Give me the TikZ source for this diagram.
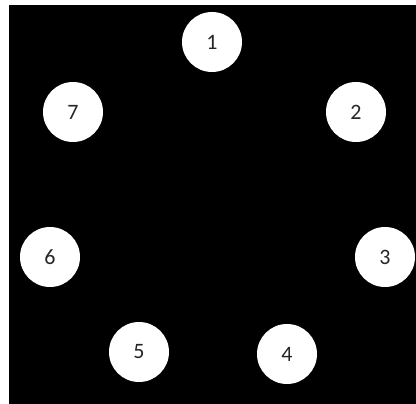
\documentclass[tikz,border=0pt]{standalone}
\usepackage{fontspec}
\setmainfont{Carlito}
\usepackage{tikz}
\usetikzlibrary{positioning}

\begin{document}
\begin{tikzpicture}[
			x=1pt, y=-1pt,
			vertex/.style={circle, draw=none, fill=white, minimum size=60pt, inner sep=0pt, text=black!85, font=\fontsize{22}{24}\selectfont}
			]
			% page and black backdrop
			\useasboundingbox (0,0) rectangle (416,404);
			\fill[white] (0,0) rectangle (416,404);
			\fill[black] (9,5) rectangle (416,404);
			
			% ring of vertices
			\node[vertex] (v1) at (212,42) {1};
			\node[vertex] (v2) at (356,112) {2};
			\node[vertex] (v3) at (385,257) {3};
			\node[vertex] (v4) at (287,354) {4};
			\node[vertex] (v5) at (139,352) {5};
			\node[vertex] (v6) at (50,257) {6};
			\node[vertex] (v7) at (73,112) {7};
		\end{tikzpicture}
\end{document}
